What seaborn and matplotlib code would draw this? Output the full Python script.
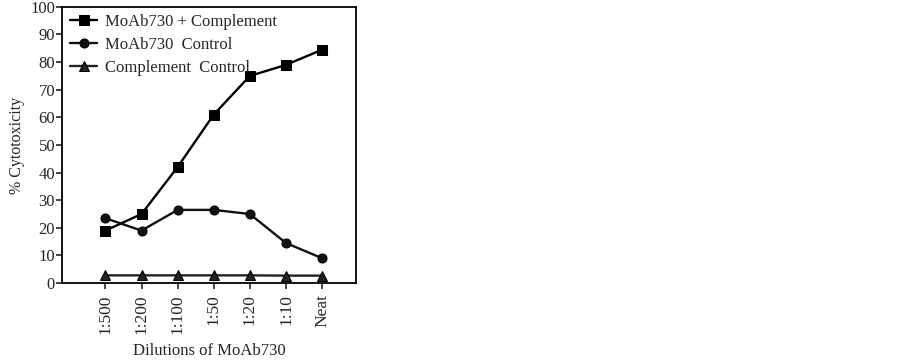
import numpy as np
import pandas as pd
import seaborn as sns
import matplotlib
matplotlib.use("Agg")
import matplotlib.pyplot as plt

# data
dilutions = ['1:500', '1:200', '1:100', '1:50', '1:20', '1:10', 'Neat']
moab_complement = [19, 25, 42, 61, 75, 79, 84.5]
moab_control = [23.5, 19, 26.5, 26.5, 25, 14.5, 9]
complement_control = [2.8, 2.8, 2.8, 2.8, 2.8, 2.7, 2.7]
series_names = ['MoAb730 + Complement', 'MoAb730  Control', 'Complement  Control']

df = pd.DataFrame({
    'dilution': dilutions * 3,
    'pos': list(range(len(dilutions))) * 3,
    'value': moab_complement + moab_control + complement_control,
    'series': [series_names[0]] * 7 + [series_names[1]] * 7 + [series_names[2]] * 7,
})

sns.set_style("ticks")
plt.rcParams['font.family'] = ['Liberation Serif', 'DejaVu Serif']

fig = plt.figure(figsize=(9.03, 3.62), dpi=100)
ax = fig.add_axes([0.0687, 0.218, 0.326, 0.763])

sns.lineplot(data=df, x='pos', y='value', hue='series', style='series',
             palette=['black', '#111111', '#222222'],
             markers=['s', 'o', '^'], dashes=False, markersize=6.5,
             markeredgecolor='black', linewidth=1.7, ax=ax)

ax.set_xlim(-1.2, 6.95)
ax.set_ylim(0, 100)
ax.set_yticks(range(0, 101, 10))
ax.set_xticks(range(len(dilutions)))
ax.set_xticklabels(dilutions, rotation=90, fontsize=12.5)
ax.tick_params(axis='y', labelsize=12, length=4, width=1.2, pad=1)
ax.tick_params(axis='x', length=4, width=1.2, pad=4)
for sp in ax.spines.values():
    sp.set_linewidth(1.3)
    sp.set_color('black')
ax.set_xlabel('Dilutions of MoAb730', fontsize=12, labelpad=7)
ax.set_ylabel('% Cytotoxicity', fontsize=11.5, labelpad=4)

leg = ax.legend(loc='upper left', frameon=False, fontsize=12, handlelength=1.6,
                handletextpad=0.5, borderaxespad=0.1, labelspacing=0.42,
                bbox_to_anchor=(0.0, 1.005))

plt.savefig('out.png', dpi=100)
